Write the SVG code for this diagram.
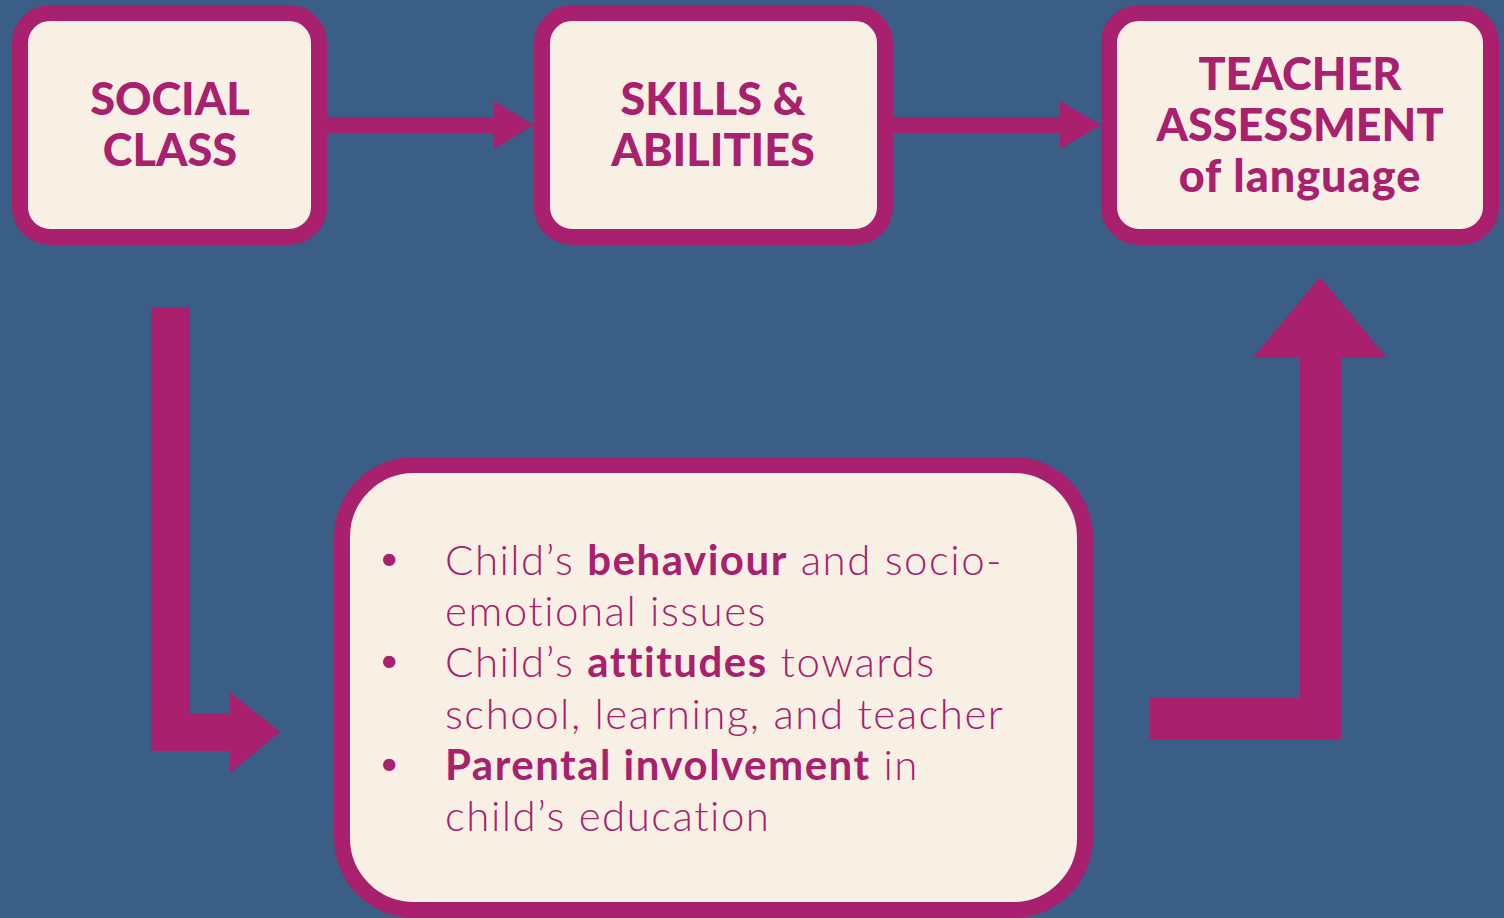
<svg xmlns="http://www.w3.org/2000/svg" width="1504" height="918" viewBox="0 0 1504 918">
  <style>
    .box { fill: #F8F0E4; stroke: #A8206E; stroke-width: 16; }
    .link { fill: #A8206E; }
    .title { font-family: Lato, "Liberation Sans", sans-serif; font-weight: 900; font-size: 45px; fill: #A8206E; text-anchor: middle; font-variant-ligatures: none; }
    .body { font-family: Lato, "Liberation Sans", sans-serif; font-weight: 300; font-size: 42px; letter-spacing: 1.5px; fill: #A8206E; font-variant-ligatures: none; }
    .body .b { font-weight: 700; }
  </style>
  <rect width="1504" height="918" fill="#3A5E86"/>

  <!-- connectors -->
  <g id="connectors">
    <polygon class="link" points="319,117 494,117 494,101 534,125 494,149 494,133 319,133"/>
    <polygon class="link" points="885,117 1060,117 1060,101 1101,125 1060,149 1060,133 885,133"/>
    <polygon class="link" points="151,307 190,307 190,713 230,713 230,692 280,732 230,773 230,751 151,751"/>
    <polygon class="link" points="1150,698 1300,698 1300,358 1253,358 1320,277 1387,358 1341,358 1341,739 1150,739"/>
  </g>

  <g id="social-class">
    <rect class="box" x="20" y="13" width="299" height="224" rx="30"/>
    <text class="title" x="170" y="115">SOCIAL</text>
    <text class="title" x="170" y="166">CLASS</text>
  </g>

  <g id="skills-abilities">
    <rect class="box" x="542" y="13" width="343" height="224" rx="30"/>
    <text class="title" x="713" y="115">SKILLS &amp;</text>
    <text class="title" x="713" y="166">ABILITIES</text>
  </g>

  <g id="teacher-assessment">
    <rect class="box" x="1109" y="13" width="382" height="224" rx="30"/>
    <text class="title" x="1300" y="90">TEACHER</text>
    <text class="title" x="1300" y="141">ASSESSMENT</text>
    <text class="title" x="1300" y="192" letter-spacing="1">of language</text>
  </g>

  <g id="mediators">
    <rect class="box" x="342" y="465" width="743" height="445" rx="72"/>
    <text class="body" x="390" y="572" text-anchor="middle" font-size="30">•</text>
    <text class="body" x="390" y="674" text-anchor="middle" font-size="30">•</text>
    <text class="body" x="390" y="777" text-anchor="middle" font-size="30">•</text>
    <text class="body" x="445" y="575">Child’s <tspan class="b">behaviour</tspan> and socio-</text>
    <text class="body" x="445" y="626">emotional issues</text>
    <text class="body" x="445" y="677">Child’s <tspan class="b">attitudes</tspan> towards</text>
    <text class="body" x="445" y="729">school, learning, and teacher</text>
    <text class="body" x="445" y="780"><tspan class="b">Parental involvement</tspan> in</text>
    <text class="body" x="445" y="831">child’s education</text>
  </g>
</svg>
